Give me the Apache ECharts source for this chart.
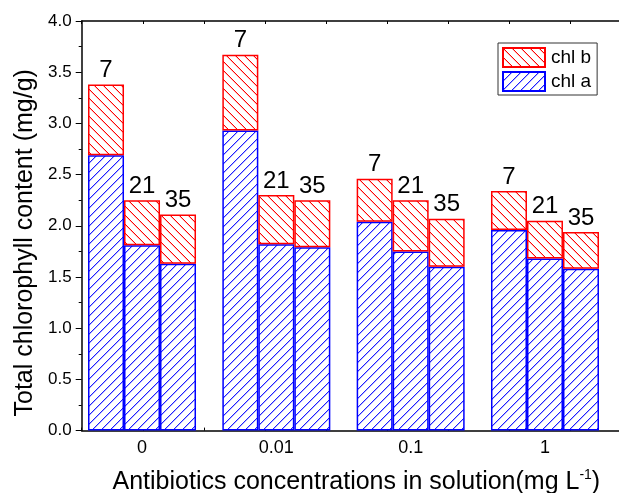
<!DOCTYPE html>
<html>
<head>
<meta charset="utf-8">
<script src="https://cdn.jsdelivr.net/npm/echarts@6/dist/echarts.min.js"></script>
<style>
  html, body { margin: 0; padding: 0; background: #fff; }
  #chart { width: 619px; height: 493px; }
</style>
</head>
<body>
<div id="chart"></div>
<script>
// Antibiotic concentrations (mg/L) on the category axis
const concentrations = ['0', '0.01', '0.1', '1'];
// Sampling days, printed above each stacked bar
const days = ['7', '21', '35'];

// Chlorophyll a (mg/g) per concentration, one array per sampling day
const chlA7 = [2.69, 2.93, 2.04, 1.96];
const chlA21 = [1.81, 1.82, 1.75, 1.68];
const chlA35 = [1.63, 1.79, 1.60, 1.58];

// Chlorophyll b (mg/g), stacked on top of chlorophyll a
const chlB7 = [0.69, 0.74, 0.42, 0.38];
const chlB21 = [0.44, 0.48, 0.50, 0.37];
const chlB35 = [0.48, 0.46, 0.47, 0.36];

// Y axis ticks
const yMin = 0, yMax = 4, yStep = 0.5;

const FONT = 'Liberation Sans, Arial, sans-serif';
const BLUE = '#0000ff';
const RED = '#ff0000';

// Diagonal hatch tile with a soft edge: dir = 1 draws "/", dir = -1 draws "\"
function hatch(core, edge, dir) {
  const s = 9;
  const c = document.createElement('canvas');
  c.width = s; c.height = s;
  const g = c.getContext('2d');
  g.fillStyle = '#ffffff';
  g.fillRect(0, 0, s, s);
  for (let i = 0; i < s; i++) {
    const y = dir > 0 ? s - 1 - i : i;
    g.fillStyle = edge;
    g.fillRect(i, (y + 1) % s, 1, 1);
    g.fillStyle = core;
    g.fillRect(i, y, 1, 1);
  }
  return { image: c, repeat: 'repeat' };
}

const styleA = { color: hatch('#1e1eff', '#b4b4ff', 1), borderColor: BLUE, borderWidth: 1.5 };
const styleB = { color: hatch('#ff0000', '#ffbcbc', -1), borderColor: RED, borderWidth: 1.5 };

const aSets = [chlA7, chlA21, chlA35];
const bSets = [chlB7, chlB21, chlB35];

const series = [];
days.forEach(function (d, i) {
  series.push({
    name: 'chl a', type: 'bar', stack: 'day' + d,
    xAxisIndex: 0, yAxisIndex: 0,
    barWidth: 36, barGap: '0%',
    itemStyle: styleA,
    data: aSets[i]
  });
  series.push({
    name: 'chl b', type: 'bar', stack: 'day' + d,
    xAxisIndex: 0, yAxisIndex: 0,
    barWidth: 36, barGap: '0%',
    itemStyle: styleB,
    label: {
      show: true, position: 'top', distance: 2,
      formatter: d,
      fontFamily: FONT, fontSize: 24, color: '#000'
    },
    data: bSets[i]
  });
});

const chart = echarts.init(document.getElementById('chart'), null, { renderer: 'canvas' });
chart.setOption({
  animation: false,
  backgroundColor: '#fff',
  grid: [
    // bars
    { left: 74.85, right: 6.85, top: 21, bottom: 62.4, containLabel: false, outerBoundsMode: 'none' },
    // frame, ticks and titles
    { left: 81.7, right: 0, top: 21, bottom: 62.4, containLabel: false, outerBoundsMode: 'none' }
  ],
  legend: {
    orient: 'vertical',
    left: 498, top: 43,
    data: ['chl b', 'chl a'],
    itemWidth: 42, itemHeight: 19, itemGap: 3,
    padding: [4, 6, 3, 4],
    borderColor: '#333', borderWidth: 1,
    textStyle: { fontFamily: FONT, fontSize: 19, color: '#000', padding: [0, 0, 0, 1] },
    icon: 'rect'
  },
  xAxis: [
    {
      type: 'category', gridIndex: 0, data: concentrations,
      position: 'bottom',
      axisLine: { show: false }, axisTick: { show: false },
      axisLabel: { fontFamily: FONT, fontSize: 18, color: '#000', margin: 8 }
    },
    {
      type: 'value', gridIndex: 1, position: 'bottom',
      min: 0, max: 537.3 / 61.1, interval: 1,
      axisLine: { show: true, lineStyle: { color: '#000', width: 1.5 } },
      axisTick: { show: true, inside: true, length: 3, lineStyle: { color: '#000' } },
      axisLabel: { show: false }, splitLine: { show: false },
      name: '{t|Antibiotics concentrations in solution(mg L}{s|-1}{t|)}',
      nameLocation: 'middle', nameGap: 38,
      nameTextStyle: {
        padding: [0, 0, 0, 12],
        rich: {
          t: { fontFamily: FONT, fontSize: 25, color: '#000', lineHeight: 27 },
          s: { fontFamily: FONT, fontSize: 14, color: '#000', verticalAlign: 'top', lineHeight: 27 }
        }
      }
    },
    {
      type: 'value', gridIndex: 1, position: 'top',
      min: 0, max: 537.3 / 61.1, interval: 1,
      axisLine: { show: true, lineStyle: { color: '#000', width: 1.5 } },
      axisTick: { show: true, inside: true, length: 3, lineStyle: { color: '#000' } },
      axisLabel: { show: false }, splitLine: { show: false }
    }
  ],
  yAxis: [
    {
      type: 'value', gridIndex: 0, min: yMin, max: yMax, interval: yStep,
      show: false
    },
    {
      type: 'value', gridIndex: 1, min: yMin, max: yMax, interval: yStep,
      position: 'left',
      axisLine: { show: true, lineStyle: { color: '#000', width: 1.5 } },
      axisTick: { show: true, length: 6, lineStyle: { color: '#000' } },
      minorTick: { show: true, splitNumber: 2, length: 3, lineStyle: { color: '#000' } },
      splitLine: { show: false },
      axisLabel: {
        fontFamily: FONT, fontSize: 17, color: '#000', margin: 10,
        formatter: function (v) { return v.toFixed(1); }
      },
      name: 'Total chlorophyll content (mg/g)',
      nameLocation: 'middle', nameGap: 44,
      nameTextStyle: { fontFamily: FONT, fontSize: 25, color: '#000', padding: [0, 34, 0, 0] }
    }
  ],
  series: series
});
</script>
</body>
</html>
